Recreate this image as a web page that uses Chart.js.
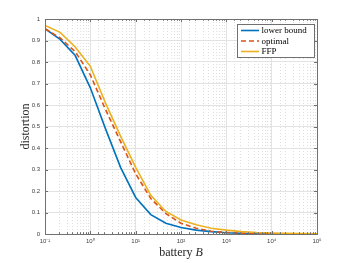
<!DOCTYPE html>
<html><head><meta charset="utf-8">
<script src="https://cdn.jsdelivr.net/npm/chart.js@4/dist/chart.umd.min.js"></script>
<style>html,body{margin:0;padding:0;background:#fff;}#wrap{width:350px;height:263px;}</style>
</head><body><div id="wrap"><canvas id="c" width="350" height="263"></canvas></div>
<script>
// battery B (x, log scale)
const batteryB = [0.1, 0.2154, 0.4642, 1, 2.154, 4.642, 10, 21.54, 46.42, 100, 215.4, 464.2, 1000, 2154, 4642, 10000, 21540, 46420, 100000];
// distortion series
const lowerBound = [0.955, 0.905, 0.83, 0.68, 0.49, 0.31, 0.17, 0.09, 0.05, 0.03, 0.018, 0.011, 0.006, 0.003, 0.002, 0.001, 0.0005, 0.0003, 0.0002];
const optimal    = [0.955, 0.912, 0.848, 0.74, 0.58, 0.43, 0.28, 0.165, 0.095, 0.05, 0.027, 0.013, 0.007, 0.004, 0.002, 0.001, 0.0006, 0.0004, 0.0003];
const ffp        = [0.97, 0.938, 0.87, 0.78, 0.61, 0.455, 0.31, 0.18, 0.105, 0.065, 0.043, 0.027, 0.018, 0.011, 0.007, 0.005, 0.003, 0.002, 0.0015];
const seriesNames = ['lower bound', 'optimal', 'FFP'];
const yTickValues = [0, 0.1, 0.2, 0.3, 0.4, 0.5, 0.6, 0.7, 0.8, 0.9, 1];
const xTickLabels = {'-1': '10⁻¹', '0': '10⁰', '1': '10¹', '2': '10²', '3': '10³', '4': '10⁴', '5': '10⁵'};
const xTitle = 'battery ';
const xTitleVar = 'B';
const yTitle = 'distortion';

const colors = ['#0072BD', '#D95319', '#EDB120'];
const isMajor = v => Math.abs(Math.log10(v) - Math.round(Math.log10(v))) < 1e-6;
const pts = arr => batteryB.map((b, i) => ({x: b, y: arr[i]}));

const framePlugin = {
  id: 'frame',
  beforeDatasetsDraw(chart) {
    const {ctx, chartArea: a, scales: {x}} = chart;
    ctx.save();
    ctx.strokeStyle = '#dedede';
    ctx.lineWidth = 1;
    ctx.setLineDash([1, 2]);
    x.ticks.forEach(t => {
      if (!isMajor(t.value)) {
        const px = Math.round(x.getPixelForValue(t.value)) + 0.5;
        ctx.beginPath(); ctx.moveTo(px, a.top); ctx.lineTo(px, a.bottom); ctx.stroke();
      }
    });
    ctx.restore();
  },
  afterDraw(chart) {
    const {ctx, chartArea: a, scales: {x, y}} = chart;
    ctx.save();
    // box
    ctx.strokeStyle = '#707070';
    ctx.lineWidth = 1;
    ctx.strokeRect(Math.round(a.left) + 0.5, Math.round(a.top) + 0.5, Math.round(a.right - a.left), Math.round(a.bottom - a.top));
    // inward ticks
    ctx.beginPath();
    x.ticks.forEach(t => {
      const px = Math.round(x.getPixelForValue(t.value)) + 0.5;
      const len = isMajor(t.value) ? 3 : 1.8;
      ctx.moveTo(px, a.bottom); ctx.lineTo(px, a.bottom - len);
      ctx.moveTo(px, a.top); ctx.lineTo(px, a.top + len);
    });
    y.ticks.forEach(t => {
      const py = Math.round(y.getPixelForValue(t.value)) + 0.5;
      ctx.moveTo(a.left, py); ctx.lineTo(a.left + 3, py);
      ctx.moveTo(a.right, py); ctx.lineTo(a.right - 3, py);
    });
    ctx.stroke();
    // axis titles
    ctx.fillStyle = '#262626';
    ctx.textBaseline = 'alphabetic';
    ctx.font = '12px "Liberation Serif"';
    const w1 = ctx.measureText(xTitle).width;
    ctx.font = 'italic 12px "Liberation Serif"';
    const w2 = ctx.measureText(xTitleVar).width;
    const cx = (a.left + a.right) / 2;
    let sx = cx - (w1 + w2) / 2;
    ctx.font = '12px "Liberation Serif"';
    ctx.textAlign = 'left';
    ctx.fillText(xTitle, sx, 255.5);
    ctx.font = 'italic 12px "Liberation Serif"';
    ctx.fillText(xTitleVar, sx + w1, 255.5);
    ctx.save();
    ctx.translate(29, (a.top + a.bottom) / 2);
    ctx.rotate(-Math.PI / 2);
    ctx.font = '12px "Liberation Serif"';
    ctx.textAlign = 'center';
    ctx.fillText(yTitle, 0, 0);
    ctx.restore();
    // legend
    const lx = 237.5, ly = 24.5, lw = 77, lh = 33;
    ctx.fillStyle = '#ffffff';
    ctx.fillRect(lx, ly, lw, lh);
    ctx.strokeStyle = '#707070';
    ctx.lineWidth = 1;
    ctx.strokeRect(lx, ly, lw, lh);
    const rows = [30.5, 41, 51.5];
    chart.data.datasets.forEach((ds, i) => {
      ctx.strokeStyle = ds.borderColor;
      ctx.lineWidth = 1.6;
      ctx.setLineDash(ds.borderDash || []);
      ctx.beginPath(); ctx.moveTo(241, rows[i]); ctx.lineTo(259, rows[i]); ctx.stroke();
      ctx.setLineDash([]);
      ctx.fillStyle = '#000';
      ctx.font = '9px "Liberation Serif"';
      ctx.textAlign = 'left';
      ctx.textBaseline = 'middle';
      ctx.fillText(ds.label, 261.5, rows[i] + 0.5);
    });
    ctx.restore();
  }
};

new Chart(document.getElementById('c'), {
  type: 'line',
  data: {
    datasets: [
      {label: seriesNames[0], data: pts(lowerBound), borderColor: colors[0], borderWidth: 1.6, order: 3},
      {label: seriesNames[1], data: pts(optimal), borderColor: colors[1], borderWidth: 1.6, borderDash: [5, 3], order: 2},
      {label: seriesNames[2], data: pts(ffp), borderColor: colors[2], borderWidth: 1.6, order: 1}
    ]
  },
  options: {
    responsive: false,
    animation: false,
    devicePixelRatio: 1,
    layout: {padding: {left: 0, right: 33, top: 19, bottom: 0}},
    elements: {point: {radius: 0}, line: {tension: 0, fill: false}},
    plugins: {legend: {display: false}, tooltip: {enabled: false}},
    scales: {
      x: {
        type: 'logarithmic', min: 0.1, max: 100000,
        afterFit: s => { s.height = 29; },
        border: {display: false},
        grid: {
          drawTicks: false,
          color: c => (c.tick && isMajor(c.tick.value)) ? '#e3e3e3' : 'rgba(0,0,0,0)',
          lineWidth: 1
        },
        ticks: {
          autoSkip: false, maxRotation: 0, padding: 4,
          color: '#404040',
          font: {family: '"Liberation Sans"', size: 6},
          callback: v => isMajor(v) ? xTickLabels[String(Math.round(Math.log10(v)))] : ''
        }
      },
      y: {
        type: 'linear', min: 0, max: 1,
        afterFit: s => { s.width = 45; },
        afterBuildTicks: s => { s.ticks = yTickValues.map(v => ({value: v})); },
        border: {display: false},
        grid: {drawTicks: false, color: '#e3e3e3', lineWidth: 1},
        ticks: {
          padding: 5,
          color: '#404040',
          font: {family: '"Liberation Sans"', size: 6},
          callback: v => String(Number(v.toFixed(1)))
        }
      }
    }
  },
  plugins: [framePlugin]
});
</script>
</body></html>
